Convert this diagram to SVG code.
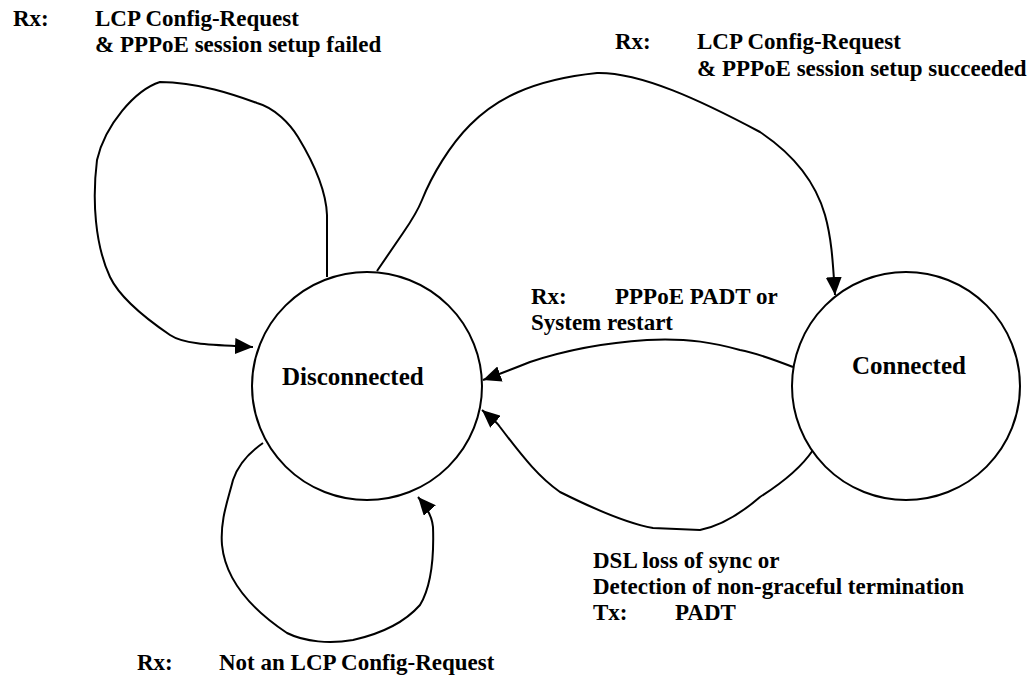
<svg xmlns="http://www.w3.org/2000/svg" width="1029" height="675" viewBox="0 0 1029 675">
<style>
  .node { fill: #ffffff; stroke: #000000; stroke-width: 2; }
  .edge { fill: none; stroke: #000000; stroke-width: 2; marker-end: url(#arrow); }
  .lbl { font-family: "Liberation Serif", "Times New Roman", serif; font-weight: bold; font-size: 23px; fill: #000000; }
  .name { font-family: "Liberation Serif", "Times New Roman", serif; font-weight: bold; font-size: 25px; fill: #000000; }
</style>
<defs>
  <marker id="arrow" markerUnits="userSpaceOnUse" markerWidth="18" markerHeight="16" refX="18" refY="8" orient="auto">
    <path d="M0,0 L18,8 L0,16 z" fill="#000000"/>
  </marker>
</defs>
<rect width="1029" height="675" fill="#ffffff"/>

<g id="connectors">
  <path id="loop-failed" class="edge" d="M327,277 L327,215 C326,190 312,160 298,137 C290,124 275,108 257,103 C240,97 200,82 160,82 C135,90 105,125 97,160 C92,200 95,245 110,277 C120,298 145,318 170,335 C185,345 215,345 253,347"/>
  <path id="succeeded" class="edge" d="M377,271 L403,233 C412,220 420,205 422,200 C432,175 450,145 470,125 C495,100 530,80 597,73 C640,72 700,100 760,132 C790,152 815,180 825,215 C832,240 833,265 835,295"/>
  <path id="padt" class="edge" d="M793,367 C775,360 757,353 740,350 C715,343 690,338 647,340 C600,343 560,352 530,362 C515,368 500,374 483,380"/>
  <path id="dsl" class="edge" d="M813,450 C805,462 790,478 760,497 C745,510 725,525 700,530 L653,528 C630,524 600,512 560,492 C540,478 525,460 500,427 C495,420 490,417 482,410"/>
  <path id="loop-notlcp" class="edge" d="M263,443 C250,452 238,465 233,480 C228,500 220,520 222,545 C225,575 245,605 287,633 C305,642 330,644 353,640 C380,634 405,622 420,605 C432,585 434,555 433,527 C432,515 425,505 418,497"/>
</g>

<g id="node-disconnected">
  <ellipse class="node" cx="367" cy="386" rx="115" ry="114"/>
  <text class="name" x="282" y="385">Disconnected</text>
</g>

<g id="node-connected">
  <circle class="node" cx="906" cy="386" r="114"/>
  <text class="name" x="852" y="374">Connected</text>
</g>

<g id="labels">
  <text class="lbl" x="13" y="26">Rx:</text>
  <text class="lbl" x="95" y="26">LCP Config-Request</text>
  <text class="lbl" x="95" y="52">&amp; PPPoE session setup failed</text>

  <text class="lbl" x="615" y="49">Rx:</text>
  <text class="lbl" x="697" y="49">LCP Config-Request</text>
  <text class="lbl" x="697" y="76">&amp; PPPoE session setup succeeded</text>

  <text class="lbl" x="531" y="304">Rx:</text>
  <text class="lbl" x="615" y="304">PPPoE PADT or</text>
  <text class="lbl" x="531" y="330">System restart</text>

  <text class="lbl" x="593" y="568">DSL loss of sync or</text>
  <text class="lbl" x="593" y="594">Detection of non-graceful termination</text>
  <text class="lbl" x="593" y="620">Tx:</text>
  <text class="lbl" x="675" y="620">PADT</text>

  <text class="lbl" x="137" y="670">Rx:</text>
  <text class="lbl" x="219" y="670">Not an LCP Config-Request</text>
</g>
</svg>
